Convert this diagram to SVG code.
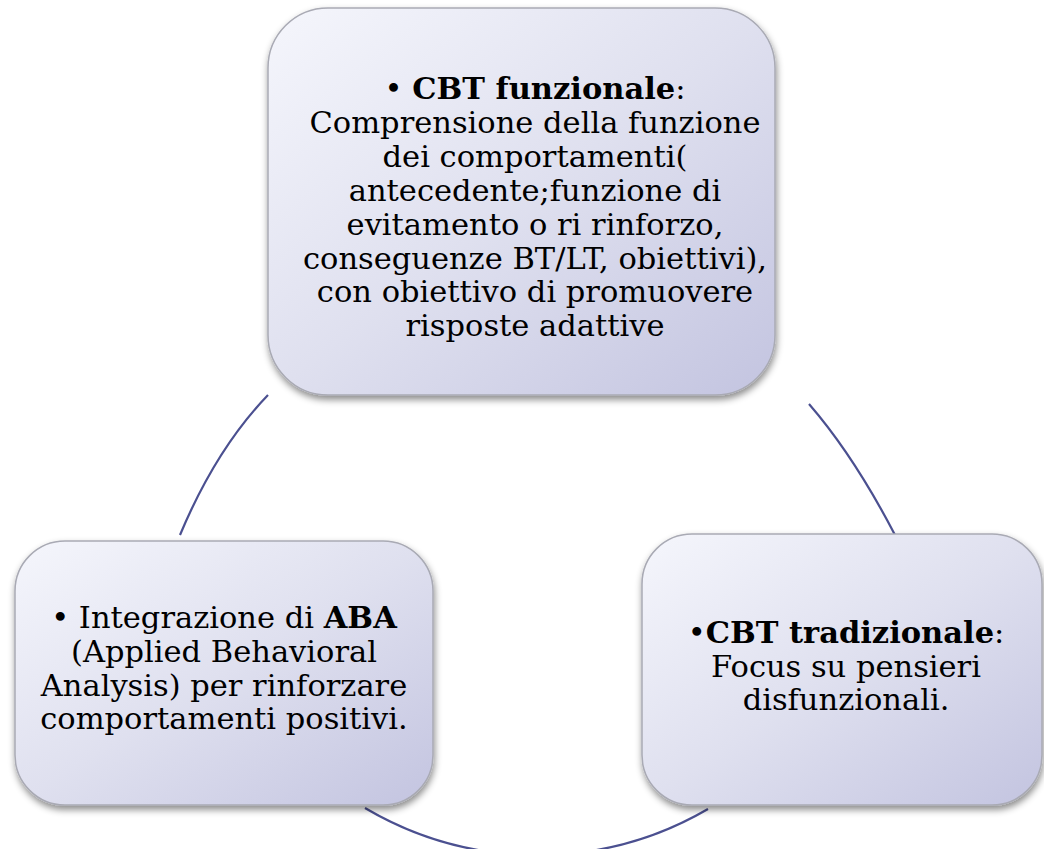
<svg xmlns="http://www.w3.org/2000/svg" width="1044" height="849" viewBox="0 0 1044 849">
<style>
.box{fill:url(#g);stroke:#a9aab4;stroke-width:1.5;filter:url(#sh)}
.t{font-family:"DejaVu Serif","Liberation Serif",serif;font-size:30.5px;fill:#000;text-anchor:middle}
.b{font-weight:bold}
.arc{fill:none;stroke:#4b5090;stroke-width:2.2}
</style>
<defs>
<linearGradient id="g" x1="0" y1="0" x2="1" y2="1">
<stop offset="0" stop-color="#f5f6fc"/>
<stop offset="0.5" stop-color="#dfe0ef"/>
<stop offset="1" stop-color="#c3c4e0"/>
</linearGradient>
<filter id="sh" x="-10%" y="-10%" width="120%" height="125%">
<feDropShadow dx="1" dy="4" stdDeviation="3.5" flood-color="#000" flood-opacity="0.45"/>
</filter>
</defs>
<g id="connectors">
<path class="arc" d="M268,395 Q216,449 180,535"/>
<path class="arc" d="M809,404 Q854,456 895,535"/>
<path class="arc" d="M365,808 A339,339 0 0 0 708,809"/>
</g>
<g id="node-top">
<rect class="box" x="268" y="8" width="507" height="387" rx="60"/>
<text class="t" x="535" y="99">• <tspan class="b">CBT funzionale</tspan>:</text>
<text class="t" x="535" y="133">Comprensione della funzione</text>
<text class="t" x="535" y="167">dei comportamenti(</text>
<text class="t" x="535" y="200.5">antecedente;funzione di</text>
<text class="t" x="535" y="234.5">evitamento o ri rinforzo,</text>
<text class="t" x="535" y="268.5">conseguenze BT/LT, obiettivi),</text>
<text class="t" x="535" y="302">con obiettivo di promuovere</text>
<text class="t" x="535" y="336">risposte adattive</text>
</g>
<g id="node-left">
<rect class="box" x="15" y="541" width="418" height="264" rx="50"/>
<text class="t" x="224" y="628">• Integrazione di <tspan class="b">ABA</tspan></text>
<text class="t" x="224" y="662">(Applied Behavioral</text>
<text class="t" x="224" y="695.5">Analysis) per rinforzare</text>
<text class="t" x="224" y="729">comportamenti positivi.</text>
</g>
<g id="node-right">
<rect class="box" x="642" y="534" width="400" height="271" rx="50"/>
<text class="t" x="846" y="643"><tspan>•</tspan><tspan class="b">CBT tradizionale</tspan>:</text>
<text class="t" x="846" y="677">Focus su pensieri</text>
<text class="t" x="846" y="710">disfunzionali.</text>
</g>
</svg>
